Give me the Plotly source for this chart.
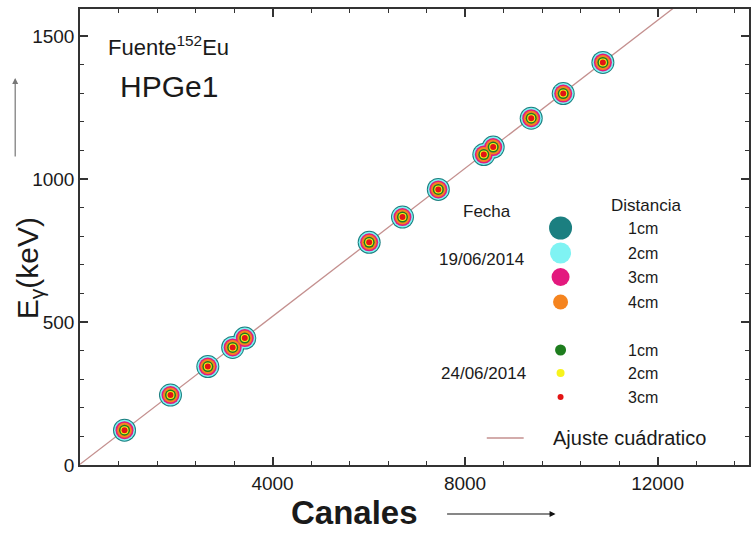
import numpy as np
import plotly.graph_objects as go

# Eu-152 gamma lines and their peak positions (channels)
energia_keV = [121.78, 244.70, 344.28, 411.12, 443.96, 778.90, 867.38,
               964.08, 1085.84, 1112.08, 1212.95, 1299.14, 1408.01]
canales = [925, 1880, 2656, 3172, 3424, 6008, 6700,
           7445, 8390, 8585, 9375, 10040, 10864]

# measurement series (date, source distance)
fechas = ["19/06/2014", "19/06/2014", "19/06/2014", "19/06/2014",
          "24/06/2014", "24/06/2014", "24/06/2014"]
distancias = ["1cm", "2cm", "3cm", "4cm", "1cm", "2cm", "3cm"]
colores = ["#1b7f80", "#7ff3f3", "#e3197e", "#f5841f",
           "#1e7d1e", "#f7f31c", "#e31414"]
tamanos = [23, 21, 18, 15, 11, 8, 6]

W, H = 751, 533
L, R, T, B = 80, 0, 9, 68
PW, PH = W - L - R, H - T - B


def pp(x, y):
    """pixel position -> paper coordinates of the plot area"""
    return (x - L) / PW, (H - B - y) / PH


FONT = "Liberation Sans, Arial, sans-serif"

fig = go.Figure()

# quadratic calibration fit
coef = np.polyfit(canales, energia_keV, 2)
xf = np.linspace(0, 13900, 300)
fig.add_trace(go.Scatter(x=xf, y=np.polyval(coef, xf), mode="lines",
                         line=dict(color="#c4908f", width=1.3),
                         hoverinfo="skip", showlegend=False))

# calibration points, one trace per series (largest first)
for f, d, c, s in zip(fechas, distancias, colores, tamanos):
    fig.add_trace(go.Scatter(x=canales, y=energia_keV, mode="markers",
                             name=f"{f} {d}",
                             marker=dict(color=c, size=s, opacity=1, line=dict(width=0)),
                             showlegend=False))

# legend glyphs drawn on an overlay axis spanning the plot area
leg_y = [228, 253, 277, 302, 350, 373, 397]
lx = [pp(562, y)[0] for y in leg_y]
ly = [pp(562, y)[1] for y in leg_y]
fig.add_trace(go.Scatter(x=lx, y=ly, xaxis="x2", yaxis="y2", mode="markers",
                         marker=dict(color=colores, size=tamanos, opacity=1,
                                     line=dict(width=0)),
                         cliponaxis=False, hoverinfo="skip", showlegend=False))

ann = []


def text(x, y, s, size, **kw):
    px_, py_ = pp(x, y)
    d = dict(x=px_, y=py_, xref="paper", yref="paper", text=s, showarrow=False,
             xanchor="center", yanchor="middle",
             font=dict(family=FONT, size=size, color="#1a1a1a"))
    d.update(kw)
    ann.append(d)


text(488, 211, "Fecha", 17)
text(648, 206, "Distancia", 17)
for d, y in zip(distancias, leg_y):
    text(645, y, d, 16)
text(483, 259, "19/06/2014", 17)
text(485, 373, "24/06/2014", 17)
text(631, 438, "Ajuste cuádratico", 20)
text(106, 46, "Fuente<sup>152</sup>Eu", 22, xanchor="left")
text(118, 87, "HPGe1", 30, xanchor="left")
text(355, 512, "<b>Canales</b>", 33)
text(30, 268, "E<sub>γ</sub>(keV)", 30, textangle=-90)

# direction arrows next to the axis titles
ax0, ay0 = pp(557, 514)
ann.append(dict(x=ax0, y=ay0, xref="paper", yref="paper", text="",
                showarrow=True, ax=-110, ay=0, arrowhead=2, arrowsize=1,
                arrowwidth=1.2, arrowcolor="#111"))
ax1, ay1 = pp(15, 78)
ann.append(dict(x=ax1, y=ay1, xref="paper", yref="paper", text="",
                showarrow=True, ax=0, ay=80, arrowhead=2, arrowsize=1,
                arrowwidth=1.2, arrowcolor="#777"))

x0, y0 = pp(488, 438)
x1, _ = pp(525, 438)
shapes = [dict(type="line", xref="paper", yref="paper", x0=x0, x1=x1, y0=y0, y1=y0,
               line=dict(color="#c4908f", width=1.5))]

axis_common = dict(showgrid=False, zeroline=False, showline=True,
                   linecolor="#333", linewidth=1.5, mirror="ticks",
                   ticks="inside", ticklen=8, tickwidth=1.5, tickcolor="#333",
                   tickfont=dict(family=FONT, size=19, color="#1a1a1a"))

fig.update_layout(
    width=W, height=H,
    margin=dict(l=L, r=R, t=T, b=B),
    paper_bgcolor="white", plot_bgcolor="white",
    xaxis=dict(range=[0, 13900], tickmode="array",
               tickvals=[0, 4000, 8000, 12000], ticktext=["", "4000", "8000", "12000"],
               minor=dict(tickmode="linear", tick0=0, dtick=800, ticks="inside",
                          ticklen=4, tickwidth=1.2, tickcolor="#333"),
               **axis_common),
    yaxis=dict(range=[0, 1595], tickmode="linear", tick0=0, dtick=500,
               minor=dict(tickmode="linear", tick0=0, dtick=100, ticks="inside",
                          ticklen=4, tickwidth=1.2, tickcolor="#333"),
               **axis_common),
    xaxis2=dict(domain=[0, 1], range=[0, 1], overlaying="x", anchor="y2",
                visible=False, fixedrange=True),
    yaxis2=dict(domain=[0, 1], range=[0, 1], overlaying="y", anchor="x2",
                visible=False, fixedrange=True),
    annotations=ann, shapes=shapes, showlegend=False,
)

fig.write_html("out.html")
